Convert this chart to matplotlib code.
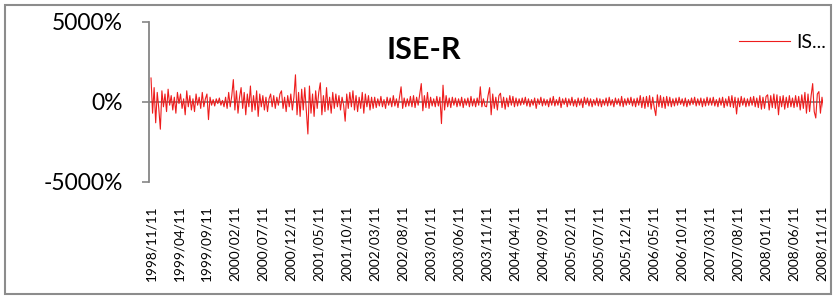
import numpy as np
import matplotlib
matplotlib.use("Agg")
import matplotlib.pyplot as plt
from matplotlib.patches import Rectangle
from matplotlib.ticker import FuncFormatter

plt.rcParams['font.family'] = ['Lato', 'DejaVu Sans']

# returns of ISE-R (percent), left to right
returns = [
    # 1998/11 - 2000/07
    1500, -700, 900, -1300, 600, -400, -1700, 700, -300, 500,
    -600, 800, -200, 400, -500, 300, -700, 600, -100, 500,
    -400, 200, -800, 700, -300, 400, -500, 200, -600, 500,
    -200, 300, -400, 600, -300, 200, 500, -1100, 300, -200,
    150, -250, 200, -100, 250, -200, 100, -300, 300, -400,
    600, -300, 400, 1400, -500, 700, -700, 300, 900, -400,
    600, -800, 500, -300, 1000, -600, 400, -500, 700, -900,
    500, -300,
    # 2000/07 - 2002/03
    400, -500, 300, -600, 200, 500, -300, 400, -400, 300,
    -200, 500, 700, -400, 300, -600, 400, -300, 500, -500,
    300, 1700, -800, 600, -900, 800, -500, 900, -600, -2000,
    1000, -700, 500, -900, 700, -400, 600, 1200, -800, 400,
    -600, 900, -500, 300, -700, 600, -400, 500, -300, 400,
    -500, 300, -200, -1200, 500, -400, 600, -300, 700, -500,
    400, -600, 300, -400, 600, -700, 500, -300, 400, -500,
    300, -400,
    # 2002/03 - 2003/11
    300, -350, 200, -250, 350, -300, 150, -400, 300, -200,
    250, -300, 400, -250, 200, -350, 300, 950, -400, 250,
    -300, 200, -250, 350, -300, 400, -350, 300, -200, 500,
    1150, -550, 400, -350, 600, -400, 300, -250, 200, -300,
    350, -250, 300, -1350, 1050, -500, 400, -300, 250, -350,
    300, -200, 250, -300, 200, -250, 300, -350, 200, -200,
    250, -300, 350, -250, 200, -300, 250, -200, 950, -300,
    200, -250,
    # 2003/11 - 2005/07
    -300, 400, 900, -800, 500, -400, 300, -500, 400, 550,
    -350, 300, -450, 250, -300, 400, -200, 350, -300, 250,
    -250, 200, -200, 250, -150, 300, -250, 200, -300, 150,
    -200, 250, -400, 200, -150, 300, -250, 200, -200, 150,
    -300, 250, -200, 350, -250, 150, -200, 300, -350, 200,
    -150, 250, -300, 200, -200, 300, -250, 150, -300, 250,
    -200, 200, -350, 300, -150, 250, -250, 200, -300, 150,
    -200, 250,
    # 2005/07 - 2007/03
    -250, 200, -300, 150, -200, 250, -250, 300, -200, 150,
    -300, 250, -150, 200, -250, 350, -300, 200, -200, 250,
    -150, 300, -250, 200, -300, 250, -200, 400, -350, 300,
    -400, 350, -300, 400, -450, 300, -350, -850, 450, -300,
    400, -350, 300, -400, 350, -250, 300, -300, 200, -250,
    250, -200, 300, -150, 200, -250, 250, -300, 150, -200,
    250, -150, 300, -250, 200, -200, 250, -300, 200, -250,
    300, -200,
    # 2007/03 - 2008/11
    250, -200, 300, -250, 150, -300, 250, -200, 300, -350,
    200, -250, 350, -300, 400, -350, 300, -750, 250, -300,
    350, -200, 250, -300, 200, -250, 300, -200, 350, -300,
    250, -350, 400, -450, 300, -400, 350, 450, -500, 400,
    -350, 500, -400, 450, -800, 350, -300, 400, -450, 300,
    -350, 400, -300, 250, -350, 400, -300, 350, -500, 450,
    -400, 600, -700, 500, -600, 400, 1150, -600, -1000, 500,
    650, -700, 300, -400,
]

date_labels = [
    "1998/11/11", "1999/04/11", "1999/09/11", "2000/02/11", "2000/07/11",
    "2000/12/11", "2001/05/11", "2001/10/11", "2002/03/11", "2002/08/11",
    "2003/01/11", "2003/06/11", "2003/11/11", "2004/04/11", "2004/09/11",
    "2005/02/11", "2005/07/11", "2005/12/11", "2006/05/11", "2006/10/11",
    "2007/03/11", "2007/08/11", "2008/01/11", "2008/06/11", "2008/11/11",
]
yticks = [-5000, 0, 5000]

W, H = 835, 296
fig = plt.figure(figsize=(W / 100, H / 100), dpi=100)
ax = fig.add_axes([149 / W, 1 - 182 / H, (823 - 149) / W, 160 / H])

x = np.arange(len(returns))
line, = ax.plot(x, returns, color='#ee1c1c', lw=0.8, label='ISE-R')
ax.axhline(0, color='#868686', lw=1.3, zorder=0)

step = 18
ax.set_xticks(np.arange(len(date_labels)) * step)
ax.set_xticklabels(date_labels, rotation=90, fontsize=9.8)
ax.set_xlim(-1.3, 432.65)
ax.set_ylim(-5000, 5000)
ax.set_yticks(yticks)
ax.yaxis.set_major_formatter(FuncFormatter(lambda v, p: f"{v:.0f}%"))
ax.tick_params(axis='y', labelsize=16.5, length=5, width=1.2, color='#868686', pad=14)
ax.tick_params(axis='x', length=0, pad=17)

for s in ['top', 'right', 'bottom']:
    ax.spines[s].set_visible(False)
ax.spines['left'].set_color('#868686')
ax.spines['left'].set_linewidth(1.3)

fig.text(424 / W, 1 - 50 / H, "ISE-R", fontsize=22, fontweight='bold',
         ha='center', va='center')

leg = fig.legend([line], ["IS..."], loc='center left',
                 bbox_to_anchor=(739 / W, 1 - 42 / H), frameon=False,
                 handlelength=2.6, handletextpad=0.35, fontsize=14,
                 borderpad=0, borderaxespad=0)

fig.patches.append(Rectangle((5 / W, 2 / H), 826 / W, 289 / H,
                             transform=fig.transFigure, fill=False,
                             edgecolor='#8c8c8c', lw=1.5))

fig.savefig("out.png", dpi=100)
